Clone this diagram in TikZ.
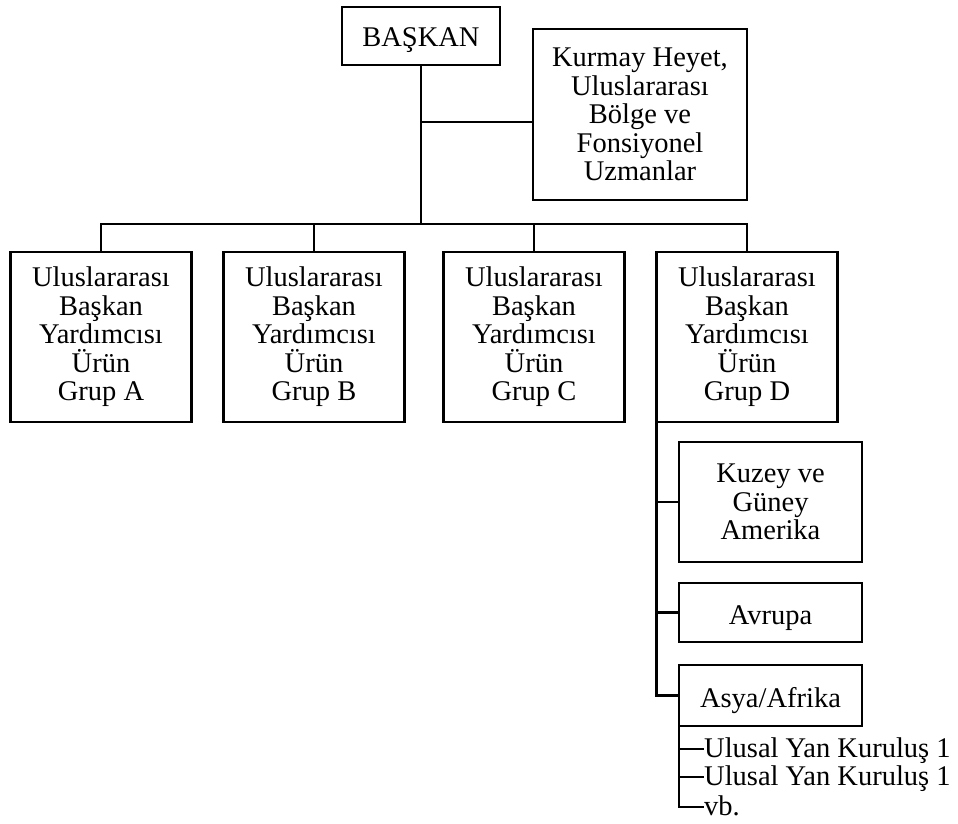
\documentclass[tikz,border=0pt]{standalone}
\usepackage{fontspec}
\setmainfont{Liberation Serif}
\begin{document}
\begin{tikzpicture}[x=1pt,y=-1pt,
  orgline/.style={line width=2.4pt, line cap=rect},
  unit/.style={draw, line width=2.4pt, align=center, inner sep=0pt,
    font=\fontsize{28.5}{28.5}\selectfont},
  % taller first line pushes the text block slightly downwards
  lower/.style={execute at begin node={\rule{0pt}{#1}}},
  grp/.style={unit, lower=29.7pt, minimum width=181pt, minimum height=170pt},
  region/.style={unit, minimum width=183pt},
  sublabel/.style={anchor=west, inner sep=1pt, text height=19pt, text depth=3pt,
    font=\fontsize{28.5}{28.5}\selectfont}]
\useasboundingbox (0,0) rectangle (958,824);

% top level
\node[unit, lower=27.5pt, minimum width=158pt, minimum height=58pt] (baskan) at (421,36) {BAŞKAN};
\node[unit, lower=28.4pt, minimum width=214pt, minimum height=171pt] (kurmay) at (640,114.5)
  {Kurmay Heyet,\\Uluslararası\\Bölge ve\\Fonsiyonel\\Uzmanlar};

% product groups
\node[grp] (ga) at (101,337) {Uluslararası\\Başkan\\Yardımcısı\\Ürün\\Grup A};
\node[grp] (gb) at (314,337) {Uluslararası\\Başkan\\Yardımcısı\\Ürün\\Grup B};
\node[grp] (gc) at (534,337) {Uluslararası\\Başkan\\Yardımcısı\\Ürün\\Grup C};
\node[grp] (gd) at (747,337) {Uluslararası\\Başkan\\Yardımcısı\\Ürün\\Grup D};

% regions under group D
\node[region, minimum height=120pt] (kuzey) at (770.5,502) {Kuzey ve\\Güney\\Amerika};
\node[region, lower=29.7pt, minimum height=59pt] (avrupa) at (770.5,612.5) {Avrupa};
\node[region, lower=30.7pt, minimum height=61pt] (asya) at (770.5,695.5) {Asya/Afrika};

% national subsidiaries
\node[sublabel] (sub1) at (703,749) {Ulusal Yan Kuruluş 1};
\node[sublabel] (sub2) at (703,777) {Ulusal Yan Kuruluş 1};
\node[sublabel] (vb) at (703,807) {vb.};

% connectors
\coordinate (bar) at (423,224);
\coordinate (kb) at (423,122);
\draw[orgline] (baskan.south) -- (baskan.south |- bar);
\draw[orgline] (kb) -- (kb -| kurmay.west);
\draw[orgline] (ga.north |- bar) -- (gd.north |- bar);
\foreach \g in {ga,gb,gc,gd}
  \draw[orgline] (\g.north |- bar) -- (\g.north);

\draw[orgline] ([xshift=1pt]gd.south west) -- ([xshift=1pt]gd.south west |- asya.west) -- (asya.west);
\draw[orgline] ([xshift=1pt]gd.south west |- kuzey.west) -- (kuzey.west);
\draw[orgline] ([xshift=1pt]gd.south west |- avrupa.west) -- (avrupa.west);

\draw[orgline] ([xshift=1pt]asya.south west) -- ([xshift=1pt]asya.south west |- vb.west) -- (vb.west);
\draw[orgline] ([xshift=1pt]asya.south west |- sub1.west) -- (sub1.west);
\draw[orgline] ([xshift=1pt]asya.south west |- sub2.west) -- (sub2.west);
\end{tikzpicture}
\end{document}
